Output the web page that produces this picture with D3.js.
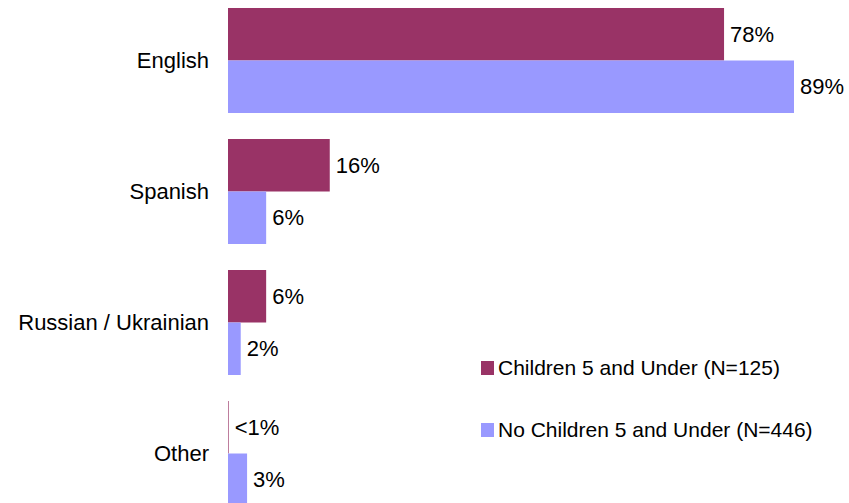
<!DOCTYPE html>
<html>
<head>
<meta charset="utf-8">
<script src="https://cdn.jsdelivr.net/npm/d3@7"></script>
<style>
  html, body { margin: 0; padding: 0; background: #fff; }
  svg { display: block; font-family: "Liberation Sans", Arial, sans-serif; }
</style>
</head>
<body>
<svg id="chart" width="849" height="503"></svg>
<script>
// Language spoken at home, by household type
const categories = ["English", "Spanish", "Russian / Ukrainian", "Other"];
const seriesNames = ["Children 5 and Under (N=125)", "No Children 5 and Under (N=446)"];
const childrenValues = [78, 16, 6, 0.1];
const childrenLabels = ["78%", "16%", "6%", "<1%"];
const noChildrenValues = [89, 6, 2, 3];
const noChildrenLabels = ["89%", "6%", "2%", "3%"];
const seriesColors = ["#993366", "#9999FF"];

const svg = d3.select("#chart");

const rows = categories.map((c, i) => ({
  category: c,
  bars: [
    { series: 0, value: childrenValues[i], label: childrenLabels[i] },
    { series: 1, value: noChildrenValues[i], label: noChildrenLabels[i] }
  ]
}));

const x = d3.scaleLinear().domain([0, 89]).range([228, 794]);

const y = d3.scaleBand()
  .domain(categories)
  .range([-5, 519])
  .paddingInner(0.1985)
  .paddingOuter(0.0992);

const ySub = d3.scaleBand()
  .domain([0, 1])
  .range([0, y.bandwidth()]);

// Category labels
svg.append("g")
  .selectAll("text")
  .data(categories)
  .join("text")
  .attr("x", 209)
  .attr("y", d => y(d) + y.bandwidth() / 2)
  .attr("text-anchor", "end")
  .attr("dominant-baseline", "central")
  .attr("font-size", 22)
  .attr("fill", "#000")
  .text(d => d);

// Bars and value labels
const groups = svg.append("g")
  .selectAll("g")
  .data(rows)
  .join("g")
  .attr("transform", d => `translate(0,${y(d.category)})`);

groups.selectAll("rect")
  .data(d => d.bars)
  .join("rect")
  .attr("x", x(0))
  .attr("y", d => ySub(d.series))
  .attr("width", d => x(d.value) - x(0))
  .attr("height", ySub.bandwidth())
  .attr("fill", d => seriesColors[d.series]);

groups.selectAll("text")
  .data(d => d.bars)
  .join("text")
  .attr("x", d => x(d.value) + 6)
  .attr("y", d => ySub(d.series) + ySub.bandwidth() / 2)
  .attr("dominant-baseline", "central")
  .attr("font-size", 22)
  .attr("fill", "#000")
  .text(d => d.label);

// Legend
const legend = svg.append("g")
  .selectAll("g")
  .data(seriesNames)
  .join("g")
  .attr("transform", (d, i) => `translate(481,${361 + i * 62})`);

legend.append("rect")
  .attr("width", 13)
  .attr("height", 14)
  .attr("fill", (d, i) => seriesColors[i]);

legend.append("text")
  .attr("x", 17)
  .attr("y", 6)
  .attr("dominant-baseline", "central")
  .attr("font-size", 21)
  .attr("fill", "#000")
  .text(d => d);
</script>
</body>
</html>
